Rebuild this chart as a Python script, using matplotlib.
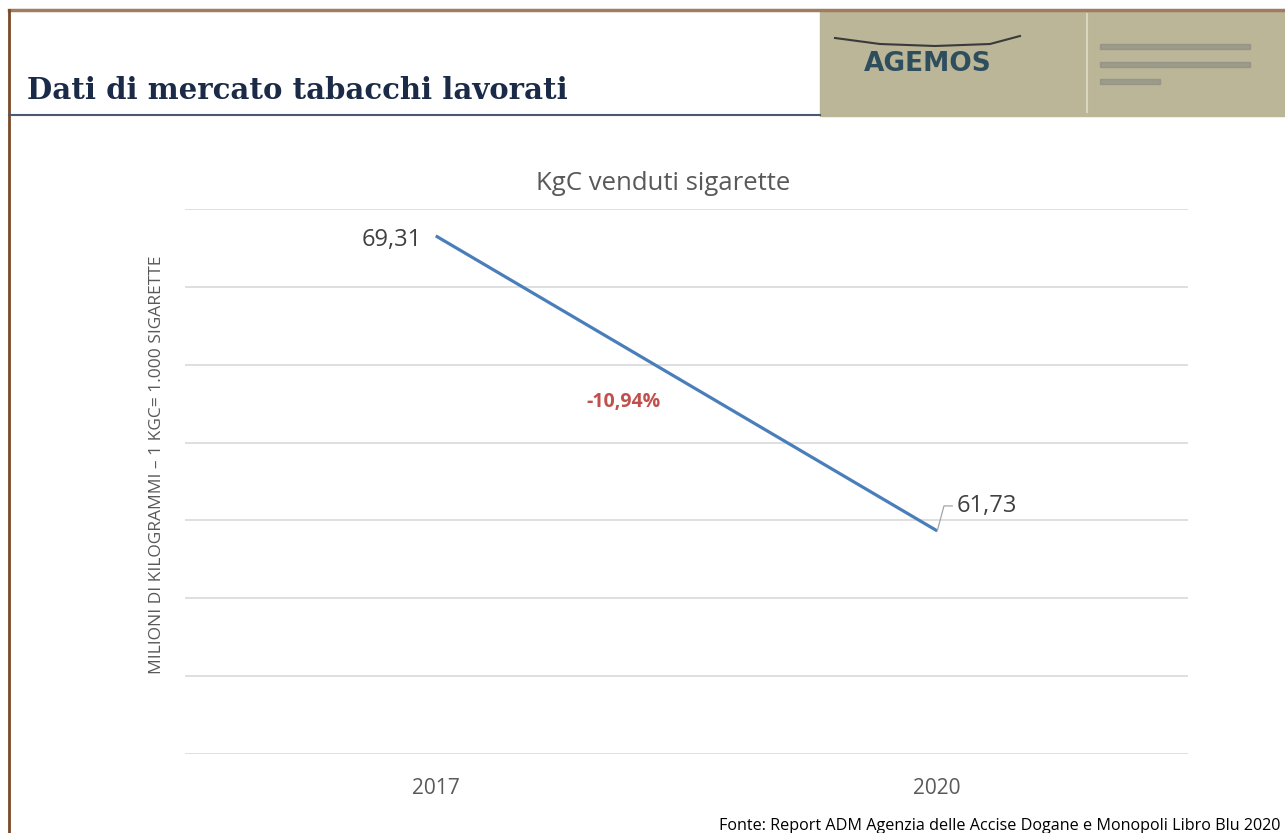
import matplotlib.pyplot as plt
from matplotlib.patches import Rectangle
from matplotlib.lines import Line2D

# Dati
anni = ['2017', '2020']
kgc = [69.31, 61.73]
etichette = ['69,31', '61,73']
variazione = '-10,94%'

titolo = 'Dati di mercato tabacchi lavorati'
titolo_grafico = 'KgC venduti sigarette'
etichetta_y = 'MILIONI DI KILOGRAMMI – 1 KGC= 1.000 SIGARETTE'
fonte = 'Fonte: Report ADM Agenzia delle Accise Dogane e Monopoli Libro Blu 2020'

W, H = 1285, 833
fig = plt.figure(figsize=(W / 100, H / 100), dpi=100)

# Cornice della slide
fig.add_artist(Line2D([9 / W, 1], [1 - 10 / H, 1 - 10 / H], color='#a07d60', lw=2.5))
fig.add_artist(Line2D([9 / W, 9 / W], [0, 1 - 10 / H], color='#7a4a28', lw=2))
fig.add_artist(Line2D([9 / W, 820 / W], [1 - 115 / H, 1 - 115 / H], color='#4a5a70', lw=1.5))

# Titolo
fig.text(27 / W, 1 - 99 / H, titolo, fontsize=21, fontweight='bold',
         family='DejaVu Serif', color='#1b2a47', va='baseline', ha='left')

# Logo (riquadro)
fig.add_artist(Rectangle((820 / W, 1 - 116 / H), 1 - 820 / W, 105 / H,
                         transform=fig.transFigure, color='#bab697', zorder=0))
fig.add_artist(Line2D([1087 / W, 1087 / W], [1 - 112 / H, 1 - 14 / H], color='#d8d5c0', lw=1.5))
fig.text(928 / W, 1 - 64 / H, 'AGEMOS', fontsize=19, fontweight='bold',
         color='#2e4e5e', ha='center', va='center', family='DejaVu Sans')
fig.add_artist(Line2D([835 / W, 880 / W, 935 / W, 990 / W, 1020 / W],
                      [1 - 38 / H, 1 - 44 / H, 1 - 46 / H, 1 - 44 / H, 1 - 36 / H],
                      color='#3a3a3a', lw=1.5))
for yy, ww in [(45, 150), (63, 150), (80, 60)]:
    fig.add_artist(Rectangle((1100 / W, 1 - (yy + 4) / H), ww / W, 5 / H,
                             transform=fig.transFigure, color='#8a8a80', alpha=0.6))

# Grafico
ax = fig.add_axes([185 / W, 1 - 754 / H, 1003 / W, 545 / H])
ax.plot(range(len(anni)), kgc, color='#4a7ebb', lw=2.3, solid_capstyle='butt')
ax.set_xlim(-0.5, len(anni) - 0.5)
ax.set_ylim(56, 70)
ax.set_yticks(range(56, 71, 2))
ax.set_yticklabels([])
ax.set_xticks(range(len(anni)))
ax.set_xticklabels(anni, fontsize=15, color='#595959', family='Open Sans')
ax.tick_params(axis='both', length=0)
ax.tick_params(axis='x', pad=17)
ax.grid(axis='y', color='#d9d9d9', lw=1.2)
ax.set_axisbelow(True)
for s in ax.spines.values():
    s.set_visible(False)

fig.text(663 / W, 1 - 183 / H, titolo_grafico, fontsize=18.5, color='#595959',
         family='Open Sans', ha='center', va='center')
fig.text(157 / W, 1 - 465 / H, etichetta_y, fontsize=12.5, color='#595959',
         family='Open Sans', rotation=90, ha='center', va='center')

# Etichette dei valori
ax.annotate(etichette[0], xy=(0, kgc[0]), xytext=(-10, -3), textcoords='offset points',
            ha='right', va='center', fontsize=17, color='#404040', family='Open Sans')
ax.annotate(etichette[1], xy=(1, kgc[1]), xytext=(14, 18), textcoords='offset points',
            ha='left', va='center', fontsize=17, color='#404040', family='Open Sans',
            arrowprops=dict(arrowstyle='-', color='#a6a6a6', lw=0.9, shrinkA=1, shrinkB=0,
                            connectionstyle='angle,angleA=0,angleB=75,rad=0'))

ax.text(0.437, 0.646, variazione, transform=ax.transAxes, ha='center', va='center',
        fontsize=14, fontweight='bold', color='#c0504d', family='Open Sans')

# Fonte
fig.text(1280 / W, 1 - 826 / H, fonte, ha='right', va='center', fontsize=11.6,
         color='#000000', family='Open Sans')

fig.savefig('out.png', dpi=100)
